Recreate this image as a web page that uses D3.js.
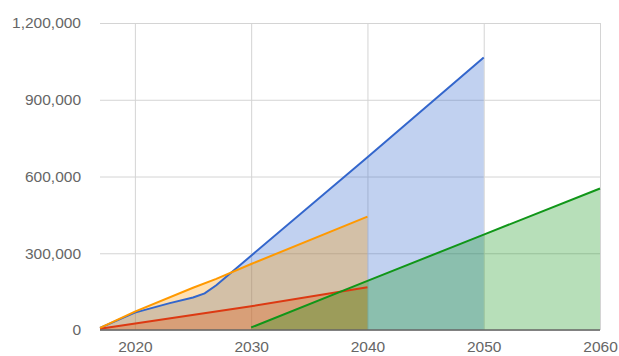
<!DOCTYPE html>
<html>
<head>
<meta charset="utf-8">
<script src="https://cdn.jsdelivr.net/npm/d3@7"></script>
<style>
  body { margin: 0; background: #fff; }
  svg { display: block; font-family: "Liberation Sans", Arial, sans-serif; }
</style>
</head>
<body>
<svg id="chart"></svg>
<script>
// Data
const xTicks = [2020, 2030, 2040, 2050, 2060];
const yTicks = [0, 300000, 600000, 900000, 1200000];

const blueYears = [2017, 2020, 2023, 2025, 2026, 2027, 2040, 2050];
const blueValues = [8000, 68000, 105000, 127000, 143000, 175000, 675000, 1065000];

const redYears = [2017, 2030, 2040];
const redValues = [5000, 93000, 167000];

const orangeYears = [2017, 2020, 2025, 2027, 2030, 2040];
const orangeValues = [8000, 72000, 165000, 200000, 258000, 443000];

const greenYears = [2030, 2040, 2050, 2060];
const greenValues = [10000, 192000, 373000, 553000];

const series = [
  { years: blueYears, values: blueValues, color: '#3366cc' },
  { years: redYears, values: redValues, color: '#dc3912' },
  { years: orangeYears, values: orangeValues, color: '#ff9900' },
  { years: greenYears, values: greenValues, color: '#109618' }
];

const width = 619, height = 356;
const margin = { top: 23, right: 19, bottom: 26, left: 100 };
const plotW = width - margin.left - margin.right;
const plotH = height - margin.top - margin.bottom;

const svg = d3.select('#chart')
  .attr('width', width)
  .attr('height', height);

const g = svg.append('g')
  .attr('transform', `translate(${margin.left}, ${margin.top})`);

const x = d3.scaleLinear().domain([2017, 2060]).range([0, plotW]);
const y = d3.scaleLinear().domain([0, 1200000]).range([plotH, 0]);

// Axes with gridlines
const yAxis = g.append('g')
  .call(d3.axisLeft(y).tickValues(yTicks).tickSize(-plotW).tickPadding(19).tickFormat(d3.format(',')));

const xAxis = g.append('g')
  .attr('transform', `translate(0, ${plotH})`)
  .call(d3.axisBottom(x).tickValues(xTicks).tickSize(-plotH).tickPadding(11).tickFormat(d3.format('d')));

[yAxis, xAxis].forEach(a => {
  a.select('.domain').remove();
  a.selectAll('line').attr('stroke', '#d4d4d4').attr('stroke-width', 1);
  a.selectAll('text').attr('fill', '#666').style('font-size', '15.5px');
});

const pointsOf = s => s.years.map((yr, i) => [yr, s.values[i]]);

// Areas first
series.forEach(s => {
  g.append('path')
    .datum(pointsOf(s))
    .attr('fill', s.color)
    .attr('fill-opacity', 0.3)
    .attr('d', d3.area().x(d => x(d[0])).y0(y(0)).y1(d => y(d[1])));
});

// Then the lines on top
series.forEach(s => {
  g.append('path')
    .datum(pointsOf(s))
    .attr('fill', 'none')
    .attr('stroke', s.color)
    .attr('stroke-width', 2)
    .attr('d', d3.line().x(d => x(d[0])).y(d => y(d[1])));
});

// Baseline
g.append('line')
  .attr('x1', 0).attr('x2', plotW)
  .attr('y1', y(0)).attr('y2', y(0))
  .attr('stroke', '#666')
  .attr('stroke-width', 1.5);
</script>
</body>
</html>
